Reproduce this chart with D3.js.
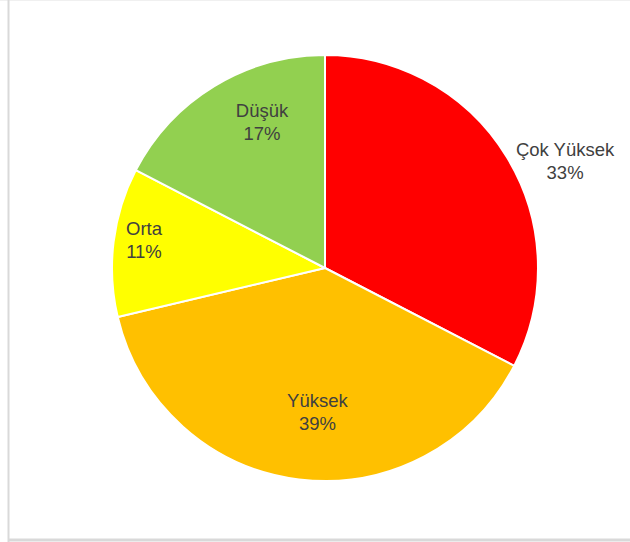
<!DOCTYPE html>
<html>
<head>
<meta charset="utf-8">
<script src="https://cdn.jsdelivr.net/npm/d3@7"></script>
<style>
  html, body { margin: 0; padding: 0; background: #ffffff; }
  svg { display: block; }
</style>
</head>
<body>
<svg id="chart" width="630" height="542"></svg>
<script>
// ---- Data ----
const categories = ["Çok Yüksek", "Yüksek", "Orta", "Düşük"];
const values = [32.6, 38.7, 11.3, 17.4];
const colors = ["#FF0000", "#FFC000", "#FFFF00", "#92D050"];

// ---- Layout (not data) ----
const W = 630, H = 542;
const cx = 325, cy = 268, R = 213;
// label placement: angular offset (deg) from slice mid-angle, and radius factor
const labelLayout = {
  "Çok Yüksek": { dAng: 7.2, rf: 1.235 },
  "Yüksek":     { dAng: -4,  rf: 0.676 },
  "Orta":       { dAng: 1.8, rf: 0.86 },
  "Düşük":      { dAng: 8,   rf: 0.747 }
};

const svg = d3.select("#chart");

// frame
svg.append("line").attr("x1", 0).attr("x2", W).attr("y1", 0.5).attr("y2", 0.5)
  .attr("stroke", "#f0f0f0").attr("stroke-width", 1);
svg.append("line").attr("x1", 8.5).attr("x2", 8.5).attr("y1", 0).attr("y2", H)
  .attr("stroke", "#d9d9d9").attr("stroke-width", 2);
svg.append("line").attr("x1", 8).attr("x2", W).attr("y1", 540).attr("y2", 540)
  .attr("stroke", "#d9d9d9").attr("stroke-width", 3);

const data = categories.map((c, i) => ({ cat: c, value: values[i], color: colors[i] }));
const total = d3.sum(values);

const pie = d3.pie().value(d => d.value).sort(null);
const arc = d3.arc().innerRadius(0).outerRadius(R);
const arcs = pie(data);

const g = svg.append("g").attr("transform", `translate(${cx},${cy})`);

g.selectAll("path.slice")
  .data(arcs)
  .join("path")
  .attr("class", "slice")
  .attr("d", arc)
  .attr("fill", d => d.data.color)
  .attr("stroke", "#ffffff")
  .attr("stroke-width", 2)
  .attr("stroke-linejoin", "round");

const fmt = v => Math.round(v / total * 100) + "%";

const labels = g.selectAll("text.lbl")
  .data(arcs)
  .join("text")
  .attr("class", "lbl")
  .attr("text-anchor", "middle")
  .attr("font-family", "Liberation Sans, Arial, sans-serif")
  .attr("font-size", 18.5)
  .attr("fill", "#404040")
  .attr("transform", d => {
    const L = labelLayout[d.data.cat];
    const mid = (d.startAngle + d.endAngle) / 2 + L.dAng * Math.PI / 180;
    const r = R * L.rf;
    const x = r * Math.sin(mid), y = -r * Math.cos(mid);
    return `translate(${x},${y})`;
  });

labels.append("tspan").attr("x", 0).attr("y", -5).text(d => d.data.cat);
labels.append("tspan").attr("x", 0).attr("y", 18.5).text(d => fmt(d.data.value));
</script>
</body>
</html>
